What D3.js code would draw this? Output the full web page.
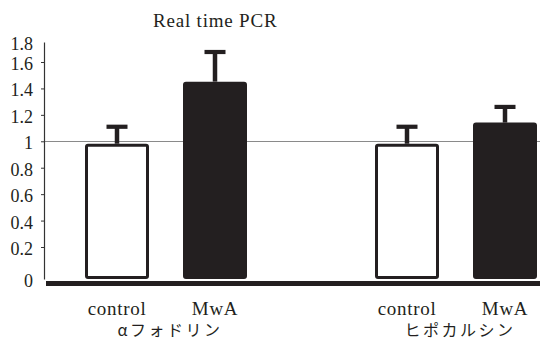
<!DOCTYPE html>
<html>
<head>
<meta charset="utf-8">
<script src="https://cdn.jsdelivr.net/npm/d3@7"></script>
<style>
  html, body { margin: 0; padding: 0; background: #fff; }
  svg { display: block; }
</style>
</head>
<body>
<svg width="540" height="343"></svg>
<script>
// Values
const groups = ["αフォドリン", "ヒポカルシン"];
const conditions = ["control", "MwA"];
const means = [[0.97, 1.44], [0.97, 1.13]];
const errors = [[0.14, 0.26], [0.14, 0.13]];
const yTicks = [0, 0.2, 0.4, 0.6, 0.8, 1, 1.2, 1.4, 1.6, 1.8];
const title = "Real time PCR";

const ink = "#231f20";
const serif = "'Liberation Serif', 'Times New Roman', serif";
const jpFont = "'Noto Sans CJK JP', 'Noto Sans CJK SC', sans-serif";
const width = 540;
const axisX = 44;
const barW = 61;

const svg = d3.select("svg");

// The printed axis is not quite linear: 0 sits low and 1.8 is squeezed
const y = d3.scaleLinear()
    .domain([0, 0.2, 1.6, 1.8])
    .range([279, 247, 62, 42]);

const x0 = d3.scalePoint().domain(groups).range([166, 456]);
const x1 = d3.scalePoint().domain(conditions).range([-49, 49]);

const rows = groups.flatMap((g, gi) => conditions.map((c, ci) => ({
    group: g, cond: c, mean: means[gi][ci], err: errors[gi][ci],
    cx: x0(g) + x1(c)
})));

// Reference line at 1
svg.append("line")
    .attr("x1", axisX).attr("x2", width)
    .attr("y1", Math.round(y(1)) + 0.5).attr("y2", Math.round(y(1)) + 0.5)
    .attr("stroke", "#8a8a8a").attr("stroke-width", 1);

// Bars
svg.selectAll("rect.bar").data(rows).join("rect")
    .attr("class", "bar")
    .attr("x", d => d.cx - barW / 2)
    .attr("y", d => y(d.mean))
    .attr("width", barW)
    .attr("height", d => y(0) - 1.5 - y(d.mean))
    .attr("rx", 1.5)
    .attr("fill", d => d.cond === "control" ? "#fff" : ink)
    .attr("stroke", ink)
    .attr("stroke-width", 3);

// Error bars (upper only)
const err = svg.selectAll("g.err").data(rows).join("g").attr("class", "err");
err.append("line")
    .attr("x1", d => d.cx).attr("x2", d => d.cx)
    .attr("y1", d => y(d.mean) - 1.5).attr("y2", d => y(d.mean + d.err))
    .attr("stroke", ink).attr("stroke-width", 4.5);
err.append("line")
    .attr("x1", d => d.cx - 10.5).attr("x2", d => d.cx + 10.5)
    .attr("y1", d => y(d.mean + d.err)).attr("y2", d => y(d.mean + d.err))
    .attr("stroke", ink).attr("stroke-width", 4.2);

// Y axis
const yAxis = svg.append("g")
    .attr("transform", `translate(${axisX},0)`)
    .call(d3.axisLeft(y)
        .tickValues(yTicks)
        .tickSize(3)
        .tickSizeOuter(0)
        .tickPadding(8)
        .tickFormat(d3.format("")));
yAxis.select(".domain").attr("stroke", "#333").attr("stroke-width", 1.2);
yAxis.selectAll(".tick line").attr("stroke", "#333")
    .filter(d => d === 0 || d === 1.8).remove();
yAxis.selectAll(".tick text")
    .style("font-family", serif)
    .style("font-size", "18px")
    .attr("fill", ink)
    .attr("dy", "0.42em");

// Thick baseline
svg.append("line")
    .attr("x1", axisX + 2).attr("x2", width)
    .attr("y1", y(0) + 4.5).attr("y2", y(0) + 4.5)
    .attr("stroke", ink).attr("stroke-width", 5);

// Category labels
svg.selectAll("text.cond").data(rows).join("text")
    .attr("class", "cond")
    .attr("x", d => d.cx)
    .attr("y", 315)
    .attr("text-anchor", "middle")
    .attr("fill", ink)
    .style("font-family", serif)
    .style("font-size", "19px")
    .attr("letter-spacing", 0.7)
    .text(d => d.cond);

// Group labels
svg.selectAll("text.grp").data(groups).join("text")
    .attr("class", "grp")
    .attr("x", d => x0(d) + 4)
    .attr("y", 336)
    .attr("text-anchor", "middle")
    .attr("fill", ink)
    .style("font-family", jpFont)
    .style("font-size", "16px")
    .attr("letter-spacing", 2.5)
    .text(d => d);

// Title
svg.append("text")
    .attr("x", 153)
    .attr("y", 27)
    .attr("fill", ink)
    .style("font-family", serif)
    .style("font-size", "19px")
    .attr("letter-spacing", 0.8)
    .text(title);
</script>
</body>
</html>
